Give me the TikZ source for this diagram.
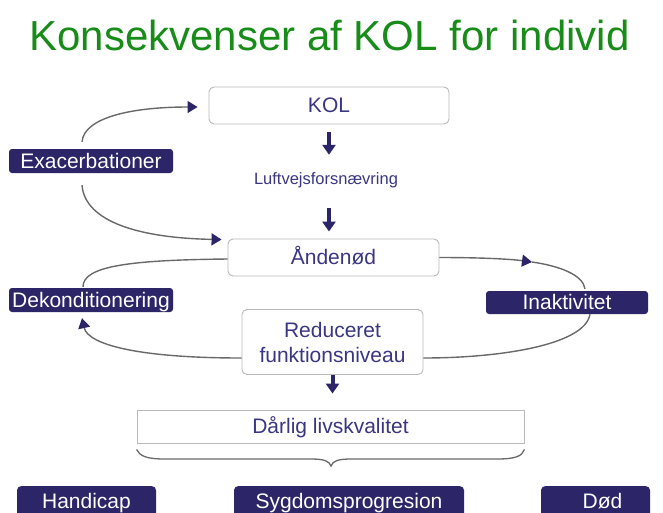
\documentclass[tikz,border=0pt]{standalone}
\usepackage{fontspec}
\setmainfont{Liberation Sans}
\usetikzlibrary{arrows.meta,calc}
\definecolor{navy}{RGB}{44,37,104}
\definecolor{txtnavy}{RGB}{58,54,130}
\definecolor{ttlgreen}{RGB}{24,140,24}
\definecolor{bordergray}{RGB}{185,185,185}
\definecolor{linegray}{RGB}{105,105,105}
\begin{document}
\begin{tikzpicture}[x=1pt,y=-1pt,
  lblfont/.style={font=\fontsize{21}{25}\selectfont, inner sep=0pt},
  lbl/.style={lblfont, text height=16pt, text depth=1.5pt},
  wbox/.style={draw=bordergray, line width=0.9pt, rounded corners=5pt, text=txtnavy, fill=white},
  nbox/.style={lbl, fill=navy, rounded corners=3pt, text=white},
  conn/.style={draw=linegray, line width=1.4pt},
  ctip/.style={-{Triangle[width=12pt,length=10pt,color=navy]}},
  blockarr/.style={draw=navy, line width=4pt, -{Triangle[width=13pt,length=10pt]}},
]
\useasboundingbox (0,0) rectangle (663,512);
\clip (0,0) rectangle (663,512);
\fill[white] (0,0) rectangle (663,512);

\node[font=\fontsize{42}{48}\selectfont, text=ttlgreen, anchor=base, inner sep=0pt] (title) at (329.5,50) {Konsekvenser af KOL for individ};

\node[lbl, wbox, minimum width=240pt, minimum height=37pt] (kol) at (329,105.5) {KOL};
\node[font=\fontsize{16.5}{20}\selectfont, text=txtnavy, text height=12pt, text depth=3.5pt, inner sep=0pt, anchor=base] (luft) at (326,184) {Luftvejsforsnævring};
\node[lbl, wbox, minimum width=211pt, minimum height=37pt] (ande) at (333.5,257.5) {Åndenød};
\node[lblfont, wbox, align=center, minimum width=181pt, minimum height=65pt] (red) at (332.5,342) {Reduceret\\funktionsniveau};
\node[lbl, draw=bordergray, line width=0.9pt, text=txtnavy, minimum width=387pt, minimum height=33pt] (dar) at (330.5,426.5) {Dårlig livskvalitet};

\node[nbox, minimum width=164pt, minimum height=24pt] (exac) at (91,161) {Exacerbationer};
\node[nbox, minimum width=164pt, minimum height=24pt] (dek) at (91,300) {Dekonditionering};
\node[nbox, minimum width=162pt, minimum height=23pt] (inak) at (567,302.5) {Inaktivitet};

\node[nbox, rounded corners=4pt, anchor=north, minimum width=139pt, text height=22pt, text depth=22pt] (hand) at (86.5,486) {Handicap};
\node[nbox, rounded corners=4pt, anchor=north, minimum width=230pt, text height=22pt, text depth=22pt] (syg) at (349,486) {Sygdomsprogresion};
\node[nbox, rounded corners=4pt, anchor=north, minimum width=109pt, text height=22pt, text depth=22pt] (dod) at (595.5,486) {\hspace*{14pt}Død};

% block arrows
\draw[blockarr, shorten <=8pt, shorten >=17pt] (kol.south) -- (kol.south |- luft.north);
\draw[blockarr, shorten <=20.5pt, shorten >=7pt] (luft.south -| kol.south) -- (kol.south |- ande.north);
\draw[blockarr, shorten >=16pt] (red.south) -- (red.south |- dar.north);

% exacerbation arcs
\draw[conn, ctip] ([shift={(-9,-7)}]exac.north) .. controls (84,118) and (130,107) .. ([shift={(-11,1.5)}]kol.west);
\draw[conn, ctip] ([shift={(-9,12)}]exac.south) .. controls (85,222) and (140,238) .. ([shift={(-6,1)}]ande.north west);

% left loop
\draw[conn] ([shift={(0,1.5)}]ande.west) .. controls (130,260) and (83,266) .. ([shift={(-8,-1)}]dek.north);
\draw[conn, ctip] ([shift={(0,16)}]red.west) .. controls (140,358) and (88,345) .. ([shift={(-9,6)}]dek.south);

% right loop
\coordinate (m1) at (532,262);
\draw[conn, ctip] (ande.east) .. controls (480,257.5) and (510,259) .. (m1);
\draw[conn] (m1) .. controls (560,266) and (583,275) .. ([shift={(18,-2)}]inak.north);
\draw[conn] ([shift={(23,0)}]inak.south) .. controls (585,345) and (500,358) .. ([shift={(0,16)}]red.east);

% brace
\coordinate (btip) at (331,466);
\draw[conn, line width=1.3pt] ([shift={(0,6)}]dar.south west) .. controls (140,456) and (146,459) .. (165,459) -- (310,459) .. controls (325,459) and (329,461) .. (btip) .. controls (333,461) and (337,459) .. (352,459) -- (497,459) .. controls (516,459) and (522,456) .. ([shift={(0,6)}]dar.south east);
\end{tikzpicture}
\end{document}
